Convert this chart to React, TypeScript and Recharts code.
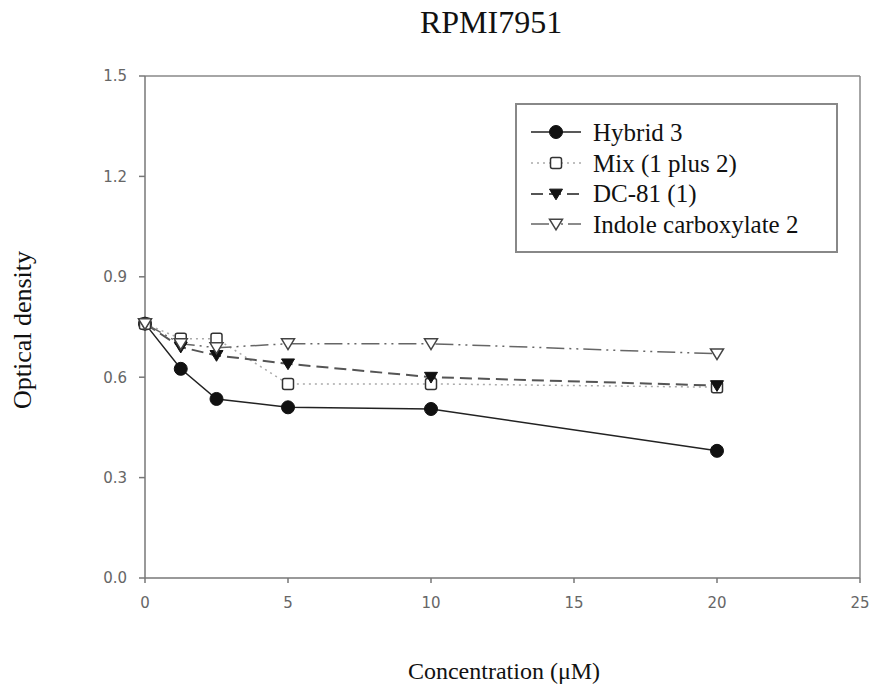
import { LineChart, Line, XAxis, YAxis, ReferenceLine } from "recharts";

const conc = [0, 1.25, 2.5, 5, 10, 20];
const hybrid3 = [0.76, 0.625, 0.535, 0.51, 0.505, 0.38];
const mix12 = [0.76, 0.715, 0.715, 0.58, 0.58, 0.57];
const dc81 = [0.76, 0.69, 0.665, 0.64, 0.6, 0.575];
const indole2 = [0.76, 0.7, 0.688, 0.7, 0.7, 0.67];
const xTicks = [0, 5, 10, 15, 20, 25];
const yTicks = [0, 0.3, 0.6, 0.9, 1.2, 1.5];

const data = conc.map((c, i) => ({
  c,
  hybrid: hybrid3[i],
  mix: mix12[i],
  dc: dc81[i],
  indole: indole2[i],
}));

const serif = "'Liberation Serif', 'DejaVu Serif', serif";
const sans = "'DejaVu Sans', 'Liberation Sans', sans-serif";

type Kind = "circle" | "square" | "triFilled" | "triOpen";

const Marker = ({ cx, cy, kind }: { cx: number; cy: number; kind: Kind }) => {
  if (kind === "circle") return <circle cx={cx} cy={cy} r={6.5} fill="#111" stroke="#111" />;
  if (kind === "square")
    return <rect x={cx - 5.5} y={cy - 5.5} width={11} height={11} rx={2} fill="#fff" stroke="#333" strokeWidth={1.5} />;
  const s = 6.5;
  const pts = `${cx - s},${cy - s * 0.75} ${cx + s},${cy - s * 0.75} ${cx},${cy + s * 0.9}`;
  return kind === "triFilled" ? (
    <polygon points={pts} fill="#111" stroke="#111" />
  ) : (
    <polygon points={pts} fill="#fff" stroke="#444" strokeWidth={1.5} />
  );
};

const series = [
  { key: "hybrid", name: "Hybrid 3", kind: "circle" as Kind, color: "#222", dash: undefined, width: 1.5 },
  { key: "mix", name: "Mix (1 plus 2)", kind: "square" as Kind, color: "#aaa", dash: "2 4", width: 1.5 },
  { key: "dc", name: "DC-81 (1)", kind: "triFilled" as Kind, color: "#555", dash: "12 6", width: 2 },
  { key: "indole", name: "Indole carboxylate 2", kind: "triOpen" as Kind, color: "#666", dash: "18 5 2 5 2 5", width: 1.5 },
];

const LegendBox = () => (
  <div
    style={{
      position: "absolute",
      left: 515,
      top: 103,
      border: "2px solid #888",
      width: 323,
      height: 150,
      boxSizing: "border-box",
      background: "#fff",
      paddingTop: 12,
    }}
  >
    {series.map((s) => (
      <div key={s.key} style={{ display: "flex", alignItems: "center", height: 30.7 }}>
        <svg width={64} height={20} style={{ marginLeft: 12 }}>
          <line x1={2} y1={10} x2={52} y2={10} stroke={s.color} strokeWidth={s.width} strokeDasharray={s.dash} />
          <Marker cx={27} cy={10} kind={s.kind} />
        </svg>
        <span style={{ fontFamily: serif, fontSize: 25, lineHeight: "25px", color: "#111", whiteSpace: "nowrap" }}>
          {s.name}
        </span>
      </div>
    ))}
  </div>
);

export default function App() {
  return (
    <div style={{ position: "absolute", left: 0, top: 0, width: 876, height: 686, background: "#fff" }}>
      <div
        style={{
          position: "absolute",
          left: 0,
          width: 982,
          top: 6,
          textAlign: "center",
          fontFamily: serif,
          fontSize: 32,
          lineHeight: "32px",
          color: "#111",
        }}
      >
        RPMI7951
      </div>
      <div
        style={{
          position: "absolute",
          left: 0,
          width: 1008,
          top: 659,
          textAlign: "center",
          fontFamily: serif,
          fontSize: 24,
          lineHeight: "24px",
          color: "#111",
        }}
      >
        Concentration (μM)
      </div>
      <div
        style={{
          position: "absolute",
          left: 23,
          top: 330,
          transform: "translate(-50%, -50%) rotate(-90deg)",
          whiteSpace: "nowrap",
          fontFamily: serif,
          fontSize: 26,
          lineHeight: "26px",
          color: "#111",
        }}
      >
        Optical density
      </div>
      <LineChart
        width={876}
        height={686}
        data={data}
        margin={{ top: 76, right: 16, bottom: 78, left: 15 }}
        style={{ position: "absolute", left: 0, top: 0 }}
      >
        <XAxis
          dataKey="c"
          type="number"
          domain={[0, 25]}
          ticks={xTicks}
          stroke="#777"
          strokeWidth={1.5}
          tickSize={5}
          tickMargin={14}
          tick={{ fill: "#666", fontFamily: sans, fontSize: 15 }}
          height={30}
        />
        <YAxis
          type="number"
          domain={[0, 1.5]}
          ticks={yTicks}
          tickFormatter={(v: number) => v.toFixed(1)}
          stroke="#777"
          strokeWidth={1.5}
          tickSize={6}
          tickMargin={12}
          tick={{ fill: "#666", fontFamily: sans, fontSize: 15 }}
          width={130}
        />
        <ReferenceLine y={1.5} stroke="#888" strokeWidth={1.5} />
        <ReferenceLine x={25} stroke="#888" strokeWidth={1.5} />
        {series.map((s) => (
          <Line
            key={s.key}
            dataKey={s.key}
            name={s.name}
            type="linear"
            stroke={s.color}
            strokeWidth={s.width}
            strokeDasharray={s.dash}
            isAnimationActive={false}
            dot={(p: any) => <Marker key={`${s.key}-${p.index}`} cx={p.cx} cy={p.cy} kind={s.kind} />}
            activeDot={false}
          />
        ))}
      </LineChart>
      <LegendBox />
    </div>
  );
}
